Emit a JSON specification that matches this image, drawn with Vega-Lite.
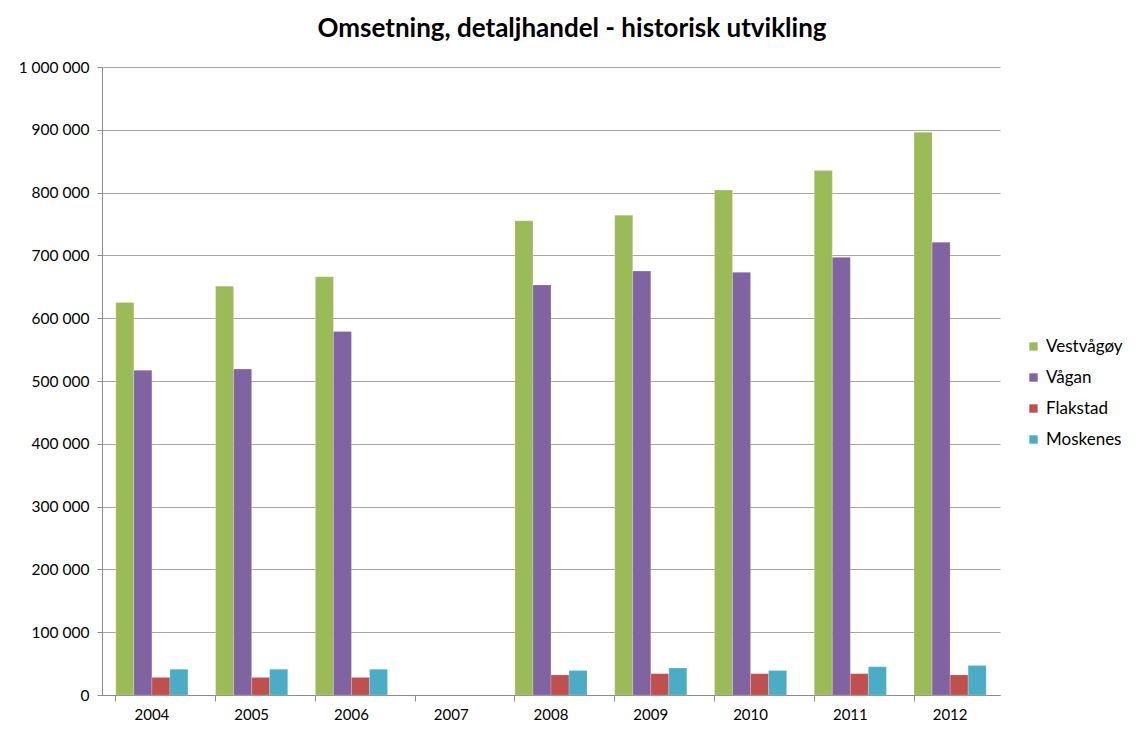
{
  "$schema": "https://vega.github.io/schema/vega-lite/v6.json",
  "width": 898,
  "height": 628,
  "autosize": {"type": "none"},
  "padding": {"left": 102, "top": 67, "right": 136, "bottom": 46},
  "background": "white",
  "config": {"view": {"stroke": null}, "font": "Lato"},
  "title": {
    "text": "Omsetning, detaljhandel - historisk utvikling",
    "fontSize": 26,
    "fontWeight": "bold",
    "font": "Lato",
    "color": "#000000",
    "anchor": "middle",
    "dx": 21,
    "offset": 18
  },
  "data": {
    "values": [
      {"year": "2004", "series": "Vestvågøy", "value": 625000},
      {"year": "2004", "series": "Vågan", "value": 517000},
      {"year": "2004", "series": "Flakstad", "value": 28000},
      {"year": "2004", "series": "Moskenes", "value": 41000},
      {"year": "2005", "series": "Vestvågøy", "value": 651000},
      {"year": "2005", "series": "Vågan", "value": 519000},
      {"year": "2005", "series": "Flakstad", "value": 28000},
      {"year": "2005", "series": "Moskenes", "value": 41000},
      {"year": "2006", "series": "Vestvågøy", "value": 666000},
      {"year": "2006", "series": "Vågan", "value": 579000},
      {"year": "2006", "series": "Flakstad", "value": 28000},
      {"year": "2006", "series": "Moskenes", "value": 41000},
      {"year": "2008", "series": "Vestvågøy", "value": 755000},
      {"year": "2008", "series": "Vågan", "value": 653000},
      {"year": "2008", "series": "Flakstad", "value": 32000},
      {"year": "2008", "series": "Moskenes", "value": 39000},
      {"year": "2009", "series": "Vestvågøy", "value": 764000},
      {"year": "2009", "series": "Vågan", "value": 675000},
      {"year": "2009", "series": "Flakstad", "value": 34000},
      {"year": "2009", "series": "Moskenes", "value": 43000},
      {"year": "2010", "series": "Vestvågøy", "value": 804000},
      {"year": "2010", "series": "Vågan", "value": 673000},
      {"year": "2010", "series": "Flakstad", "value": 34000},
      {"year": "2010", "series": "Moskenes", "value": 39000},
      {"year": "2011", "series": "Vestvågøy", "value": 835000},
      {"year": "2011", "series": "Vågan", "value": 697000},
      {"year": "2011", "series": "Flakstad", "value": 34000},
      {"year": "2011", "series": "Moskenes", "value": 45000},
      {"year": "2012", "series": "Vestvågøy", "value": 896000},
      {"year": "2012", "series": "Vågan", "value": 721000},
      {"year": "2012", "series": "Flakstad", "value": 32000},
      {"year": "2012", "series": "Moskenes", "value": 47000}
    ]
  },
  "mark": {"type": "bar", "stroke": "white", "strokeOpacity": 0.4, "strokeWidth": 0.5},
  "encoding": {
    "x": {
      "field": "year",
      "type": "nominal",
      "scale": {"domain": ["2004","2005","2006","2007","2008","2009","2010","2011","2012"], "paddingInner": 0.277, "paddingOuter": 0.1385},
      "axis": {
        "title": null,
        "labelAngle": 0,
        "labelFontSize": 15,
        "labelColor": "#000000",
        "labelPadding": 6,
        "bandPosition": 0,
        "tickSize": 6,
        "tickColor": "#8c8c8c",
        "domainColor": "#8c8c8c",
        "labelFont": "Lato"
      }
    },
    "xOffset": {
      "field": "series",
      "type": "nominal",
      "scale": {"domain": ["Vestvågøy", "Vågan", "Flakstad", "Moskenes"], "paddingInner": 0}
    },
    "y": {
      "field": "value",
      "type": "quantitative",
      "scale": {"domain": [0, 1000000], "nice": false},
      "axis": {
        "title": null,
        "values": [0,100000,200000,300000,400000,500000,600000,700000,800000,900000,1000000],
        "labelExpr": "replace(format(datum.value, ',d'), /,/g, ' ')",
        "labelFontSize": 15.5,
        "labelColor": "#000000",
        "labelPadding": 8,
        "tickSize": 5,
        "tickColor": "#8c8c8c",
        "domainColor": "#8c8c8c",
        "gridColor": "#a6a6a6",
        "gridWidth": 1,
        "labelFont": "Lato"
      }
    },
    "color": {
      "field": "series",
      "type": "nominal",
      "scale": {"domain": ["Vestvågøy", "Vågan", "Flakstad", "Moskenes"], "range": ["#9BBB59", "#8064A2", "#C0504D", "#4BACC6"]},
      "legend": {
        "title": null,
        "orient": "none",
        "legendX": 923,
        "legendY": 271,
        "symbolType": "square",
        "symbolSize": 70,
        "symbolStrokeWidth": 0,
        "labelFontSize": 17,
        "labelColor": "#000000",
        "labelFont": "Lato",
        "rowPadding": 13,
        "labelOffset": 4
      }
    }
  }
}
